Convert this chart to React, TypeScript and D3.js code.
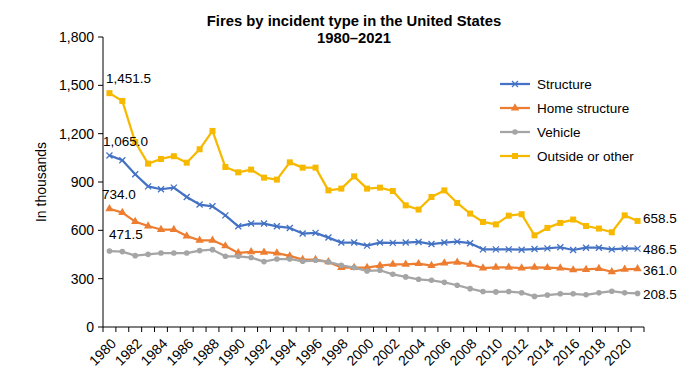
import React from 'react';
import * as d3 from 'd3';

const years = d3.range(1980, 2022);
const seriesNames = ['Structure', 'Home structure', 'Vehicle', 'Outside or other'];

const structure = [1065.0, 1035, 948, 873, 855, 865, 807, 760, 749, 693, 625, 642, 642, 625, 615, 580, 584, 555, 524, 524, 505, 524, 522, 524, 528, 515, 524, 530, 520, 482, 482, 482, 480, 484, 488, 495, 478, 492, 492, 482, 488, 486.5];
const homeStructure = [734.0, 710, 654, 627, 605, 605, 565, 538, 538, 503, 460, 466, 464, 459, 441, 418, 418, 404, 369, 369, 369, 381, 389, 389, 393, 381, 397, 402, 389, 366, 370, 370, 366, 370, 368, 366, 354, 357, 362, 343, 358, 361.0];
const vehicle = [471.5, 468, 443, 451, 459, 459, 459, 474, 480, 439, 439, 431, 406, 422, 422, 408, 414, 404, 383, 369, 348, 352, 327, 311, 296, 290, 277, 259, 238, 220, 218, 220, 213, 190, 198, 206, 206, 200, 212, 222, 212, 208.5];
const outside = [1451.5, 1403, 1148, 1014, 1043, 1060, 1020, 1103, 1217, 993, 960, 977, 927, 915, 1022, 989, 989, 848, 859, 935, 859, 865, 844, 755, 729, 807, 848, 770, 704, 652, 637, 691, 700, 569, 615, 646, 667, 627, 611, 588, 693, 658.5];

const yTicks = [0, 300, 600, 900, 1200, 1500, 1800];
const colors = ['#4472C4', '#ED7D31', '#A5A5A5', '#F7B900'];
const markers = ['x', 'triangle', 'circle', 'square'];
const allSeries = [structure, homeStructure, vehicle, outside];

const font = 'Liberation Sans, Arial, sans-serif';

function Marker({ type, x, y, color }: { type: string; x: number; y: number; color: string }) {
  if (type === 'x') {
    return (
      <g stroke={color} strokeWidth={1.3}>
        <line x1={x - 3} y1={y - 3} x2={x + 3} y2={y + 3} />
        <line x1={x - 3} y1={y + 3} x2={x + 3} y2={y - 3} />
      </g>
    );
  }
  if (type === 'triangle') {
    return <path d={d3.symbol(d3.symbolTriangle, 30)() || ''} transform={`translate(${x},${y})`} fill={color} />;
  }
  if (type === 'circle') {
    return <circle cx={x} cy={y} r={2.8} fill={color} />;
  }
  return <rect x={x - 3} y={y - 3} width={6} height={6} fill={color} />;
}

export default function App() {
  const left = 103;
  const right = 644;
  const top = 37;
  const bottom = 327;

  const band = d3.scaleBand<number>().domain(years).range([left, right]);
  const xc = (yr: number) => (band(yr) as number) + band.bandwidth() / 2;
  const y = d3.scaleLinear().domain([0, 1800]).range([bottom, top]);
  const line = d3.line<number>().x((_, i) => xc(years[i])).y((d) => y(d));

  const boundaries = d3.range(years.length + 1).map((i) => left + i * band.bandwidth());

  return (
    <svg width={700} height={392} style={{ position: 'absolute', left: 0, top: 0, background: '#fff' }} fontFamily={font}>
      <text x={354} y={26} textAnchor="middle" fontSize={14.8} fontWeight="bold">Fires by incident type in the United States</text>
      <text x={354} y={43} textAnchor="middle" fontSize={14.8} fontWeight="bold">1980–2021</text>

      {/* y axis */}
      <line x1={left} x2={left} y1={top} y2={bottom} stroke="#000" />
      {yTicks.map((t) => (
        <g key={t}>
          <line x1={left - 5} x2={left} y1={y(t)} y2={y(t)} stroke="#000" />
          <text x={left - 9} y={y(t)} dy="0.35em" textAnchor="end" fontSize={14}>{d3.format(',')(t)}</text>
        </g>
      ))}
      <text transform={`translate(46,${(top + bottom) / 2}) rotate(-90)`} textAnchor="middle" fontSize={14}>In thousands</text>

      {/* x axis */}
      <line x1={left} x2={right} y1={bottom} y2={bottom} stroke="#000" />
      {boundaries.map((b, i) => (
        <line key={i} x1={b} x2={b} y1={bottom} y2={bottom + 5} stroke="#000" />
      ))}
      {years.filter((yr) => yr % 2 === 0).map((yr) => (
        <text key={yr} transform={`translate(${xc(yr) + 4},${bottom + 14}) rotate(-45)`} textAnchor="end" dy="0.35em" fontSize={14}>{yr}</text>
      ))}

      {/* series */}
      {allSeries.map((s, si) => (
        <g key={si}>
          <path d={line(s) || ''} fill="none" stroke={colors[si]} strokeWidth={2.25} strokeLinejoin="round" />
          {s.map((v, i) => (
            <Marker key={i} type={markers[si]} x={xc(years[i])} y={y(v)} color={colors[si]} />
          ))}
        </g>
      ))}

      {/* data labels */}
      <text x={106} y={y(outside[0]) - 10} fontSize={13.5}>1,451.5</text>
      <text x={103} y={y(structure[0]) - 9} fontSize={13.5}>1,065.0</text>
      <text x={102} y={y(homeStructure[0]) - 10} fontSize={13.5}>734.0</text>
      <text x={109} y={y(vehicle[0]) - 12} fontSize={13.5}>471.5</text>
      <text x={643} y={y(outside[41]) - 3} dy="0.35em" fontSize={13.5}>658.5</text>
      <text x={643} y={y(structure[41]) + 1} dy="0.35em" fontSize={13.5}>486.5</text>
      <text x={643} y={y(homeStructure[41]) + 1} dy="0.35em" fontSize={13.5}>361.0</text>
      <text x={643} y={y(vehicle[41]) + 1} dy="0.35em" fontSize={13.5}>208.5</text>

      {/* legend */}
      {seriesNames.map((n, i) => {
        const ly = 84 + i * 24;
        return (
          <g key={n}>
            <line x1={500} x2={530} y1={ly} y2={ly} stroke={colors[i]} strokeWidth={2.25} />
            <Marker type={markers[i]} x={515} y={ly} color={colors[i]} />
            <text x={537} y={ly} dy="0.35em" fontSize={13.5}>{n}</text>
          </g>
        );
      })}
    </svg>
  );
}
